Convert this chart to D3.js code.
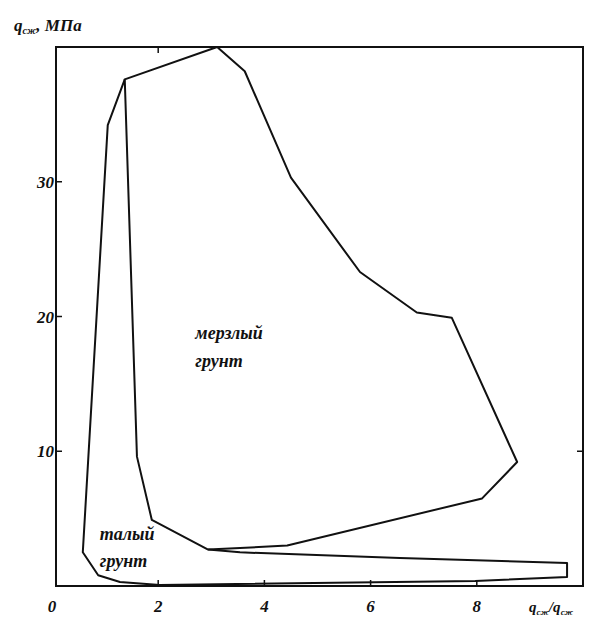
<!DOCTYPE html>
<html><head><meta charset="utf-8">
<script src="https://cdn.jsdelivr.net/npm/d3@7"></script>
<style>
body{margin:0;background:#fff;}
text{font-family:"Liberation Serif","DejaVu Serif",serif;font-style:italic;font-weight:bold;fill:#111;}
</style></head>
<body><svg id="c" width="602" height="632"></svg>
<script>
// Data (x = q_frozen/q_thawed ratio, y = q, MPa)
const frozenX = [3.11, 3.63, 4.50, 5.80, 6.87, 7.53, 8.76, 8.10, 4.43, 2.94, 1.88, 1.60, 1.37];
const frozenY = [40.0, 38.2, 30.3, 23.3, 20.3, 19.9, 9.2, 6.5, 3.0, 2.7, 4.9, 9.6, 37.6];
const thawedX = [1.37, 1.05, 0.58, 0.87, 1.28, 2.03, 7.97, 9.70, 9.70, 6.55, 3.54, 2.94];
const thawedY = [37.6, 34.2, 2.5, 0.8, 0.3, 0.07, 0.37, 0.67, 1.7, 2.08, 2.5, 2.7];
const xTickVals = [0, 2, 4, 6, 8];
const xTickLabels = ["0", "2", "4", "6", "8"];
const yTickVals = [10, 20, 30];
const yTickLabels = ["10", "20", "30"];
const regionLabels = [
  {lines: ["мерзлый", "грунт"], x: 2.7, y: 18.3, gap: 28},
  {lines: ["талый", "грунт"], x: 0.9, y: 3.4, gap: 27}
];

const svg = d3.select("#c");
const x = d3.scaleLinear().domain([0, 10]).range([52, 583]);
const y = d3.scaleLinear().domain([0, 40]).range([586, 47]);

// frame
svg.append("rect").attr("x", 56).attr("y", y(40)).attr("width", x(10) - 56).attr("height", y(0) - y(40))
  .attr("fill", "none").attr("stroke", "#111").attr("stroke-width", 2);

// ticks (inward)
const tk = svg.append("g").attr("stroke", "#111").attr("stroke-width", 1.5);
xTickVals.filter(v => v > 0).forEach(v => {
  tk.append("line").attr("x1", x(v)).attr("x2", x(v)).attr("y1", y(0)).attr("y2", y(0) - 6);
});
tk.append("line").attr("x1", x(2)).attr("x2", x(2)).attr("y1", y(40)).attr("y2", y(40) + 6);
yTickVals.forEach(v => {
  tk.append("line").attr("x1", 56).attr("x2", 62).attr("y1", y(v)).attr("y2", y(v));
});
tk.append("line").attr("x1", x(10)).attr("x2", x(10) - 6).attr("y1", y(10)).attr("y2", y(10));

// tick labels
svg.append("g").selectAll("text").data(xTickVals).join("text")
  .attr("x", d => x(d)).attr("y", 612).attr("text-anchor", "middle").attr("font-size", 17)
  .text((d, i) => xTickLabels[i]);
svg.append("g").selectAll("text").data(yTickVals).join("text")
  .attr("x", 54).attr("y", d => y(d) + 6).attr("text-anchor", "end").attr("font-size", 17)
  .text((d, i) => yTickLabels[i]);

// axis titles
const t1 = svg.append("text").attr("x", 14).attr("y", 31).attr("font-size", 17);
t1.append("tspan").text("q");
t1.append("tspan").attr("font-size", 10).attr("dy", 3).text("сж");
t1.append("tspan").attr("dy", -3).text(", МПа");
const t2 = svg.append("text").attr("x", 529).attr("y", 612).attr("font-size", 15);
t2.append("tspan").text("q");
t2.append("tspan").attr("font-size", 9).attr("dy", 3).text("сж");
t2.append("tspan").attr("dy", -3).text("/q");
t2.append("tspan").attr("font-size", 9).attr("dy", 3).text("сж");

// polygons
const line = d3.line().x(d => x(d[0])).y(d => y(d[1])).curve(d3.curveLinearClosed);
svg.append("path").attr("d", line(frozenX.map((v, i) => [v, frozenY[i]])))
  .attr("fill", "none").attr("stroke", "#111").attr("stroke-width", 2).attr("stroke-linejoin", "round");
const lineOpen = d3.line().x(d => x(d[0])).y(d => y(d[1]));
svg.append("path").attr("d", lineOpen(thawedX.map((v, i) => [v, thawedY[i]])))
  .attr("fill", "none").attr("stroke", "#111").attr("stroke-width", 2).attr("stroke-linejoin", "round");

// region labels
regionLabels.forEach(r => {
  const t = svg.append("text").attr("x", x(r.x)).attr("y", y(r.y)).attr("font-size", 18);
  r.lines.forEach((s, i) => t.append("tspan").attr("x", x(r.x)).attr("dy", i ? r.gap : 0).text(s));
});
</script></body></html>
